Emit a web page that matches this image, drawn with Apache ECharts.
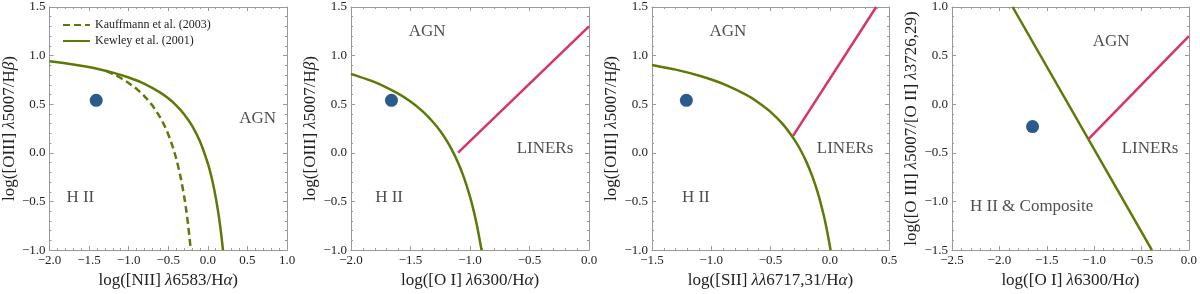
<!DOCTYPE html>
<html><head><meta charset="utf-8">
<script src="https://cdn.jsdelivr.net/npm/echarts@6/dist/echarts.min.js"></script>
<style>html,body{margin:0;padding:0;background:#fff}#c{width:1200px;height:294px}</style>
</head><body><div id="c"></div>
<script>
// ---------- data ----------
const kauffmannNII = [[-1.28,0.841],[-1.2,0.812],[-1.1,0.770],[-1.0,0.719],[-0.9,0.658],[-0.8,0.582],[-0.7,0.487],[-0.6,0.362],[-0.55,0.284],[-0.5,0.191],[-0.45,0.080],[-0.4,-0.056],[-0.35,-0.225],[-0.3,-0.443],[-0.27,-0.604],[-0.25,-0.733],[-0.23,-0.884],[-0.215,-1.0]];
const kewleyNII = [[-2.0,0.943],[-1.8,0.921],[-1.6,0.895],[-1.4,0.864],[-1.2,0.825],[-1.0,0.775],[-0.8,0.710],[-0.6,0.620],[-0.5,0.561],[-0.4,0.489],[-0.3,0.398],[-0.2,0.280],[-0.1,0.120],[0.0,-0.108],[0.05,-0.262],[0.1,-0.459],[0.13,-0.604],[0.15,-0.716],[0.17,-0.843],[0.1915,-1.0]];
const kewleyOI = [[-2.0,0.812],[-1.8,0.727],[-1.6,0.607],[-1.5,0.528],[-1.4,0.429],[-1.3,0.302],[-1.25,0.224],[-1.2,0.133],[-1.15,0.026],[-1.1,-0.101],[-1.05,-0.257],[-1.0,-0.450],[-0.97,-0.591],[-0.95,-0.698],[-0.93,-0.819],[-0.903,-1.0]];
const linerOI = [[-1.1,0.002],[0.0,1.30]];
const kewleySII = [[-1.5,0.904],[-1.3,0.856],[-1.1,0.793],[-0.9,0.710],[-0.7,0.594],[-0.6,0.516],[-0.5,0.422],[-0.4,0.300],[-0.3,0.139],[-0.25,0.037],[-0.2,-0.085],[-0.15,-0.232],[-0.1,-0.414],[-0.05,-0.646],[-0.02,-0.818],[0.007,-1.0]];
const linerSII = [[-0.31,0.174],[0.392,1.5]];
const boundaryOIII_OII = [[-1.86,1.0],[-0.39,-1.5]];
const linerOIII_OII = [[-1.06,-0.36],[0.0,0.7]];
const pointNII = [[-1.41,0.54]];
const pointOI = [[-1.66,0.54]];
const pointSII = [[-1.21,0.54]];
const pointOII = [[-1.65,-0.23]];
const labels1 = [["AGN",0.63,0.35],["H II",-1.61,-0.46]];
const labels2 = [["AGN",-1.36,1.25],["LINERs",-0.37,0.04],["H II",-1.68,-0.46]];
const labels3 = [["AGN",-0.86,1.25],["LINERs",0.13,0.04],["H II",-1.13,-0.46]];
const labels4 = [["AGN",-0.82,0.65],["LINERs",-0.41,-0.46],["H II & Composite",-1.66,-1.05]];
const legendNames = ['Kauffmann et al. (2003)','Kewley et al. (2001)'];
const xRanges = [[-2,1],[-2,0],[-1.5,0.5],[-2.5,0]];
const yRanges = [[-1,1.5],[-1,1.5],[-1,1.5],[-1.5,1.0]];
const tickStep = 0.5;
const xNames = ["{n|log([NII] }{i|λ}{n|6583/H}{i|α}{n|)}","{n|log([O I] }{i|λ}{n|6300/H}{i|α}{n|)}","{n|log([SII] }{i|λλ}{n|6717,31/H}{i|α}{n|)}","{n|log([O I] }{i|λ}{n|6300/H}{i|α}{n|)}"];
const yNames = ["{n|log([OIII] }{i|λ}{n|5007/H}{i|β}{n|)}","{n|log([OIII] }{i|λ}{n|5007/H}{i|β}{n|)}","{n|log([OIII] }{i|λ}{n|5007/H}{i|β}{n|)}","{n|log([O III] }{i|λ}{n|5007/[O II] }{i|λ}{n|3726,29)}"];

// ---------- style ----------
const FONT = "'Liberation Serif','DejaVu Serif',serif";
const GREEN = '#5b7a06', RED = '#d6346a', BLUE = '#2b5b8c', AX = '#999999', TXT = '#222222';
const grids = [
  {left:49, top:7, width:238, height:250},
  {left:351, top:7, width:238, height:250},
  {left:652, top:7, width:237, height:250},
  {left:952, top:7, width:238, height:250}
];
const fmt = v => { const s = (Math.abs(v) < 1e-9 ? 0 : v).toFixed(1); return s.replace('-', '\u2212'); };
const rich = {n:{fontFamily:FONT,fontSize:17,color:TXT}, i:{fontFamily:FONT,fontSize:17,fontStyle:'italic',color:TXT}};
function axis(i, range, pos, name, isX) {
  const main = (pos === 'bottom' || pos === 'left');
  return {
    type:'value', gridIndex:i, position:pos, min:range[0], max:range[1], interval:tickStep,
    axisLine:{show:true, onZero:false, lineStyle:{color:AX, width:1}},
    axisTick:{show:true, inside:true, length:4, lineStyle:{color:AX}},
    minorTick:{show:true, splitNumber:5, length:2, lineStyle:{color:AX}},
    splitLine:{show:false}, minorSplitLine:{show:false},
    axisLabel:{show:main, formatter:fmt, fontFamily:FONT, fontSize:13, color:TXT, margin:4, showMinLabel:true, showMaxLabel:true},
    name: main ? name : '', nameLocation:'middle', nameGap: isX ? 19 : 29,
    nameTextStyle:{rich:rich, fontFamily:FONT, fontSize:17, color:TXT}
  };
}
const xAxis = [], yAxis = [];
for (let i = 0; i < 4; i++) {
  xAxis.push(axis(i, xRanges[i], 'bottom', xNames[i], true));
  xAxis.push(axis(i, xRanges[i], 'top', '', true));
  yAxis.push(axis(i, yRanges[i], 'left', yNames[i], false));
  yAxis.push(axis(i, yRanges[i], 'right', '', false));
}
function line(i, data, color, name, type) {
  return {type:'line', name:name, xAxisIndex:2*i, yAxisIndex:2*i, data:data, symbol:'none', showSymbol:false, smooth:0.2, clip:true,
    lineStyle:{color:color, width:2.5, type:type||'solid'}, itemStyle:{color:color}, z:3, silent:true};
}
function dot(i, data) {
  return {type:'scatter', xAxisIndex:2*i, yAxisIndex:2*i, data:data, symbolSize:13, itemStyle:{color:BLUE, opacity:1}, z:4, silent:true};
}
function texts(i, arr) {
  return {type:'scatter', xAxisIndex:2*i, yAxisIndex:2*i, symbolSize:0, silent:true, z:5,
    data: arr.map(a => ({value:[a[1], a[2]], name:a[0]})),
    label:{show:true, position:'inside', formatter:p => p.name, fontFamily:FONT, fontSize:17, color:TXT}};
}
const series = [
  line(0, kauffmannNII, GREEN, legendNames[0], [7,4]),
  line(0, kewleyNII, GREEN, legendNames[1]),
  dot(0, pointNII), texts(0, labels1),
  line(1, kewleyOI, GREEN, 'k2'), line(1, linerOI, RED, 'l2'), dot(1, pointOI), texts(1, labels2),
  line(2, kewleySII, GREEN, 'k3'), line(2, linerSII, RED, 'l3'), dot(2, pointSII), texts(2, labels3),
  line(3, boundaryOIII_OII, GREEN, 'k4'), line(3, linerOIII_OII, RED, 'l4'), dot(3, pointOII), texts(3, labels4)
];
const chart = echarts.init(document.getElementById('c'), null, {renderer:'canvas'});
chart.setOption({
  animation:false, backgroundColor:'#fff',
  grid: grids, xAxis: xAxis, yAxis: yAxis, series: series,
  legend: {data:legendNames, orient:'vertical', left:57, top:14,
    itemWidth:27, itemHeight:12, itemGap:4, selectedMode:false,
    itemStyle:{opacity:0},
    textStyle:{fontFamily:FONT, fontSize:12, color:TXT}}
});
</script></body></html>
